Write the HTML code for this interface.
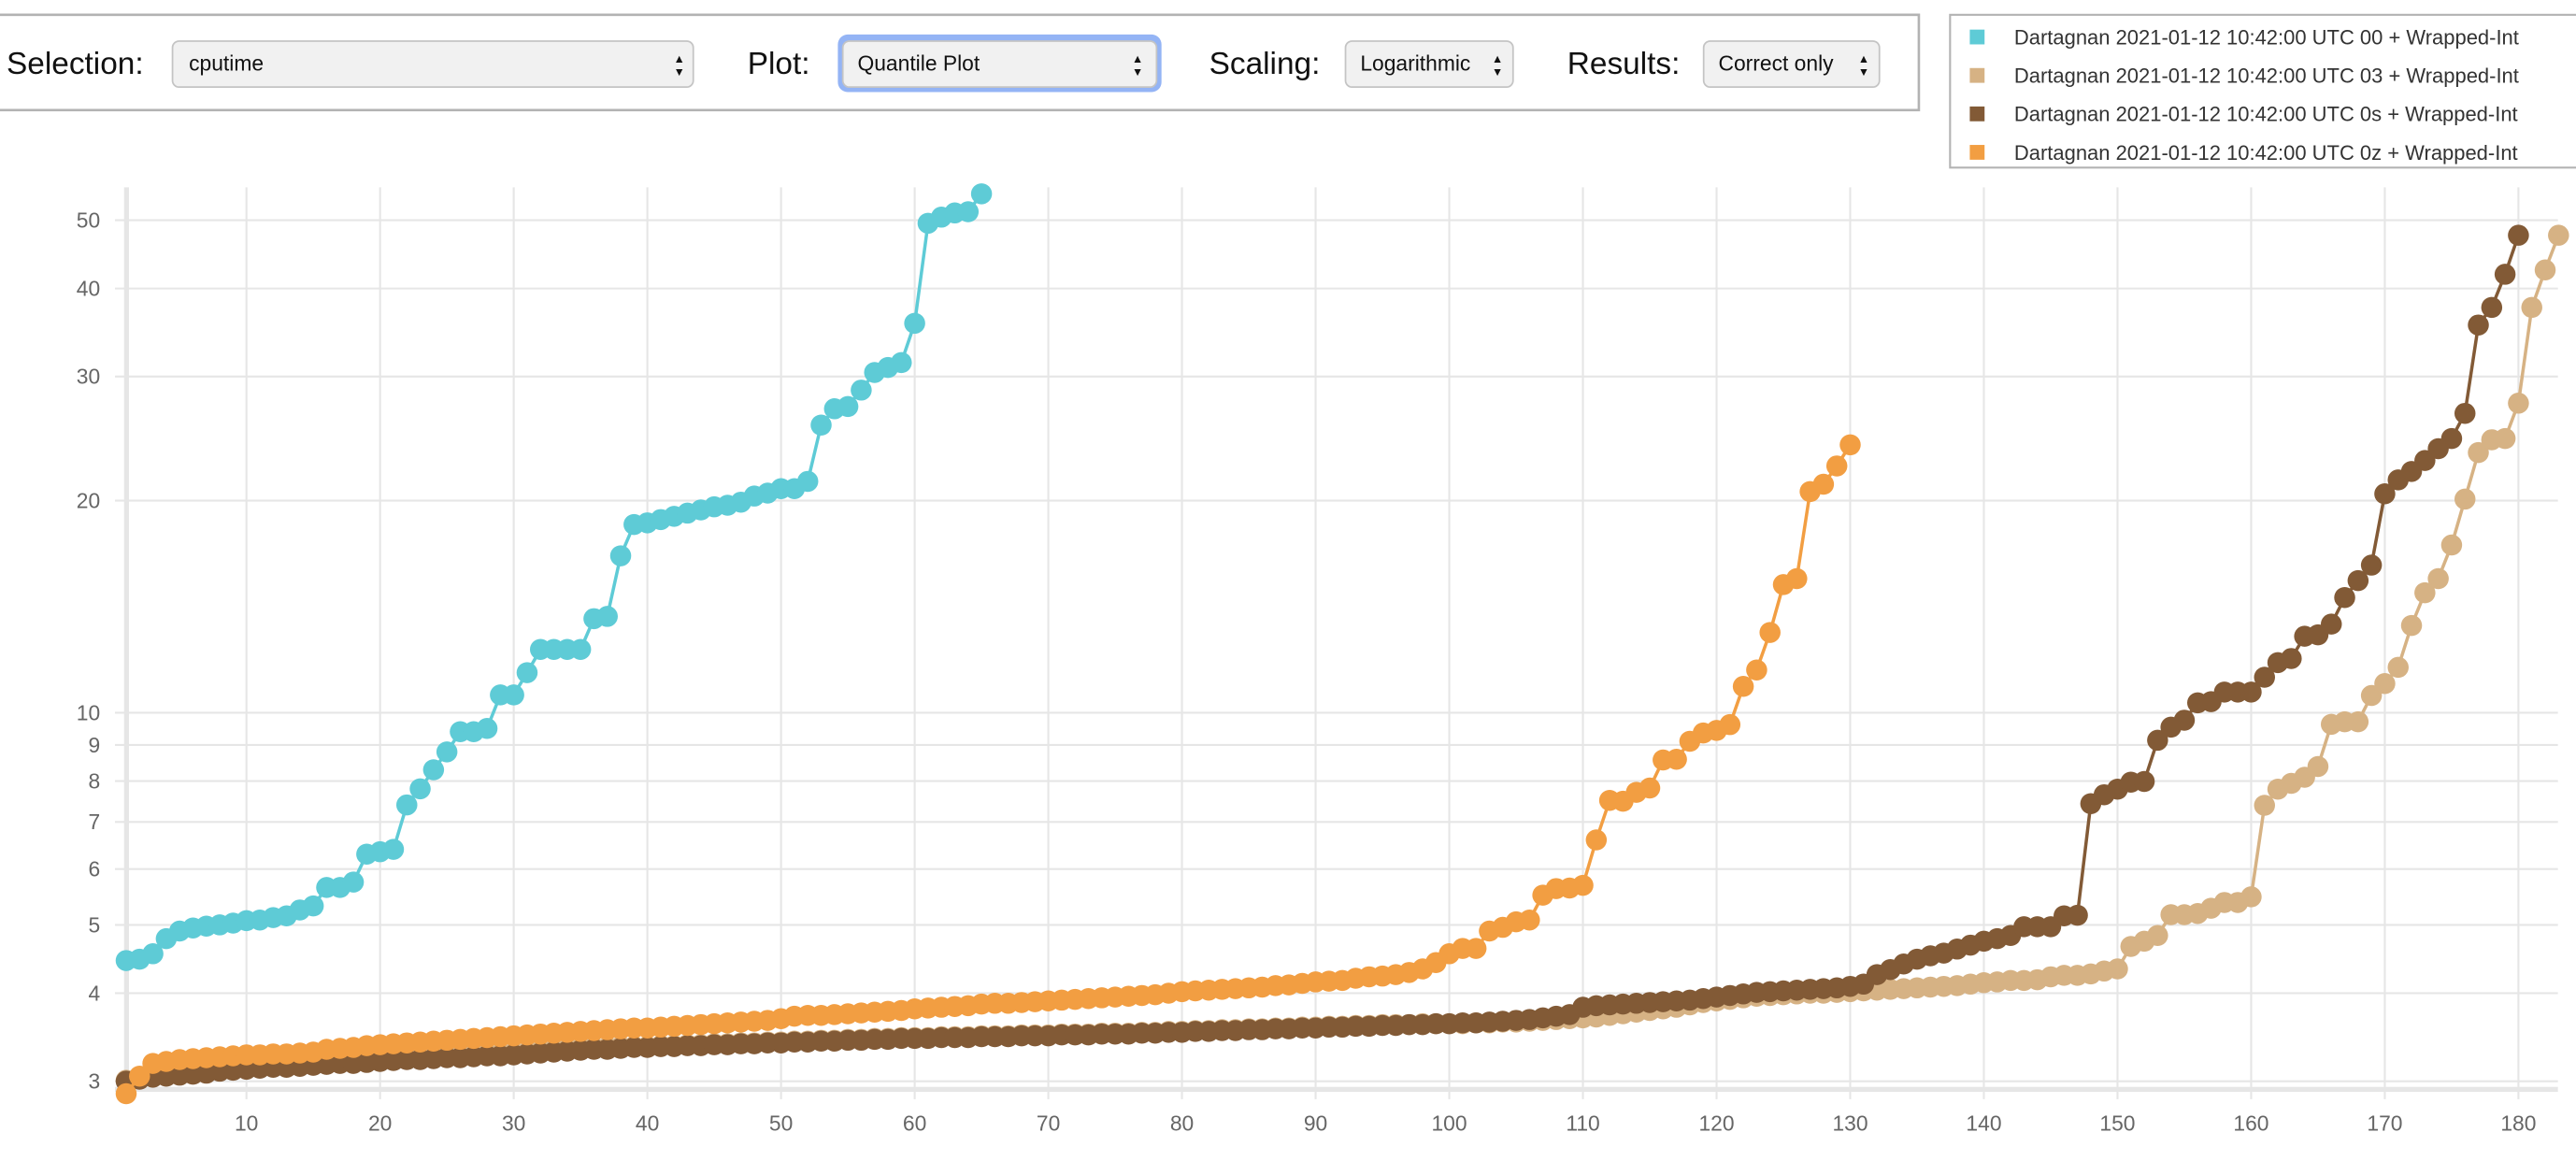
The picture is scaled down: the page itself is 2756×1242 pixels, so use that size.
<!DOCTYPE html>
<html><head><meta charset="utf-8"><style>
html,body{margin:0;padding:0;background:#fff;}
svg{display:block;font-family:"Liberation Sans","DejaVu Sans",sans-serif;}
</style></head><body>
<svg id="root" width="2756" height="1242" viewBox="0 0 1568 706.6">
  <g>
    <rect x="-2" y="9" width="1170" height="58" fill="#fff" stroke="#b3b3b3" stroke-width="1.5"/>
    <text x="4" y="45" font-size="19" fill="#111">Selection:</text>
    <g>
      <rect x="105" y="25" width="317" height="28" rx="4" fill="#f1f1f1" stroke="#c4c4c4"/>
      <text x="115" y="43" font-size="13" fill="#111">cputime</text>
      <text x="410" y="38" font-size="7" fill="#111">▲</text><text x="410" y="46" font-size="7" fill="#111">▼</text>
    </g>
    <text x="455" y="45" font-size="19" fill="#111">Plot:</text>
    <g>
      <rect x="510" y="21" width="197" height="35" rx="6" fill="#94b4f5"/>
      <rect x="513" y="25" width="191" height="28" rx="4" fill="#f1f1f1" stroke="#c4c4c4"/>
      <text x="522" y="43" font-size="13" fill="#111">Quantile Plot</text>
      <text x="689" y="38" font-size="7" fill="#111">▲</text><text x="689" y="46" font-size="7" fill="#111">▼</text>
    </g>
    <text x="736" y="45" font-size="19" fill="#111">Scaling:</text>
    <g>
      <rect x="819" y="25" width="102" height="28" rx="4" fill="#f1f1f1" stroke="#c4c4c4"/>
      <text x="828" y="43" font-size="13" fill="#111">Logarithmic</text>
      <text x="908" y="38" font-size="7" fill="#111">▲</text><text x="908" y="46" font-size="7" fill="#111">▼</text>
    </g>
    <text x="954" y="45" font-size="19" fill="#111">Results:</text>
    <g>
      <rect x="1037" y="25" width="107" height="28" rx="4" fill="#f1f1f1" stroke="#c4c4c4"/>
      <text x="1046" y="43" font-size="13" fill="#111">Correct only</text>
      <text x="1131" y="38" font-size="7" fill="#111">▲</text><text x="1131" y="46" font-size="7" fill="#111">▼</text>
    </g>
  </g>
  <g>
    <rect x="1187" y="9" width="385" height="93" fill="#fff" stroke="#b3b3b3" stroke-width="1.2"/>
  </g>
  <g id="chart"></g>
</svg>
<script>
const labels = ["Dartagnan 2021-01-12 10:42:00 UTC 00 + Wrapped-Int","Dartagnan 2021-01-12 10:42:00 UTC 03 + Wrapped-Int","Dartagnan 2021-01-12 10:42:00 UTC 0s + Wrapped-Int","Dartagnan 2021-01-12 10:42:00 UTC 0z + Wrapped-Int"];
const colors = ["#5ecbd6","#d6b284","#825a36","#f29e42"];
const xTicks = [10,20,30,40,50,60,70,80,90,100,110,120,130,140,150,160,170,180];
const yTicks = [3,4,5,6,7,8,9,10,20,30,40,50];
const s00 = [4.45,4.47,4.55,4.78,4.9,4.95,4.98,5.0,5.03,5.07,5.08,5.12,5.15,5.25,5.32,5.65,5.65,5.75,6.3,6.35,6.4,7.4,7.8,8.3,8.8,9.4,9.4,9.5,10.6,10.6,11.4,12.3,12.3,12.3,12.3,13.6,13.7,16.7,18.5,18.6,18.8,19.0,19.2,19.4,19.6,19.7,19.9,20.3,20.5,20.8,20.8,21.3,25.6,27.0,27.2,28.7,30.4,30.9,31.4,35.7,49.5,50.5,51.2,51.4,54.5];
const s0z = [2.88,3.05,3.18,3.2,3.22,3.23,3.24,3.25,3.26,3.27,3.27,3.28,3.28,3.29,3.3,3.33,3.34,3.35,3.37,3.38,3.39,3.4,3.41,3.42,3.43,3.44,3.45,3.46,3.47,3.48,3.49,3.5,3.51,3.52,3.53,3.54,3.55,3.56,3.57,3.57,3.58,3.59,3.6,3.61,3.62,3.63,3.64,3.65,3.66,3.68,3.71,3.72,3.72,3.73,3.74,3.75,3.76,3.77,3.78,3.8,3.81,3.82,3.83,3.84,3.86,3.87,3.87,3.88,3.89,3.9,3.91,3.92,3.93,3.94,3.95,3.96,3.97,3.98,4.0,4.02,4.03,4.04,4.05,4.06,4.07,4.08,4.1,4.11,4.13,4.15,4.16,4.17,4.2,4.22,4.23,4.25,4.28,4.33,4.42,4.55,4.63,4.63,4.9,4.96,5.05,5.08,5.51,5.63,5.64,5.69,6.6,7.51,7.49,7.71,7.82,8.57,8.59,9.11,9.36,9.44,9.62,10.9,11.5,13.0,15.2,15.5,20.6,21.1,22.4,24.0];
const s0s = [3.0,3.02,3.04,3.05,3.06,3.07,3.08,3.1,3.11,3.12,3.13,3.14,3.14,3.15,3.16,3.17,3.18,3.18,3.19,3.2,3.21,3.22,3.22,3.23,3.24,3.24,3.25,3.26,3.26,3.27,3.28,3.29,3.3,3.31,3.32,3.33,3.33,3.34,3.35,3.35,3.36,3.36,3.37,3.37,3.38,3.38,3.39,3.39,3.4,3.4,3.41,3.41,3.42,3.42,3.43,3.43,3.44,3.44,3.45,3.45,3.45,3.46,3.46,3.46,3.47,3.47,3.47,3.48,3.48,3.48,3.49,3.49,3.49,3.5,3.5,3.5,3.51,3.51,3.52,3.52,3.53,3.53,3.54,3.54,3.55,3.55,3.56,3.56,3.57,3.57,3.58,3.58,3.59,3.59,3.6,3.6,3.61,3.61,3.62,3.62,3.63,3.63,3.64,3.65,3.66,3.67,3.69,3.71,3.73,3.82,3.84,3.85,3.86,3.87,3.88,3.89,3.9,3.91,3.93,3.95,3.97,3.99,4.01,4.02,4.03,4.04,4.05,4.06,4.07,4.09,4.12,4.25,4.32,4.4,4.47,4.52,4.56,4.62,4.68,4.74,4.78,4.83,4.97,4.97,4.97,5.15,5.16,7.43,7.65,7.79,7.97,7.99,9.14,9.54,9.76,10.33,10.37,10.7,10.7,10.7,11.23,11.78,11.94,12.84,12.9,13.36,14.57,15.4,16.2,20.45,21.4,22.0,22.8,23.7,24.5,26.6,35.5,37.6,41.9,47.6];
const s03 = [3.01,3.03,3.05,3.06,3.07,3.08,3.09,3.11,3.12,3.13,3.14,3.15,3.15,3.16,3.17,3.18,3.19,3.19,3.2,3.21,3.22,3.23,3.23,3.24,3.25,3.26,3.27,3.28,3.28,3.29,3.3,3.31,3.32,3.33,3.34,3.35,3.35,3.36,3.36,3.36,3.37,3.37,3.38,3.38,3.39,3.39,3.4,3.4,3.41,3.41,3.42,3.42,3.43,3.43,3.44,3.44,3.45,3.45,3.46,3.46,3.46,3.47,3.47,3.47,3.48,3.48,3.48,3.49,3.49,3.49,3.5,3.5,3.5,3.51,3.51,3.51,3.52,3.52,3.53,3.53,3.54,3.54,3.55,3.55,3.56,3.56,3.57,3.57,3.58,3.58,3.59,3.59,3.6,3.6,3.61,3.61,3.61,3.62,3.62,3.62,3.62,3.63,3.63,3.64,3.64,3.65,3.66,3.67,3.68,3.69,3.7,3.72,3.74,3.76,3.78,3.8,3.82,3.85,3.88,3.9,3.92,3.94,3.96,3.97,3.98,3.99,4.0,4.0,4.01,4.02,4.03,4.04,4.05,4.06,4.07,4.08,4.09,4.1,4.12,4.14,4.15,4.17,4.17,4.18,4.22,4.24,4.24,4.26,4.30,4.33,4.66,4.74,4.83,5.17,5.17,5.19,5.28,5.38,5.38,5.48,7.39,7.79,7.94,8.1,8.39,9.63,9.71,9.71,10.58,11.0,11.6,13.3,14.8,15.5,17.3,20.1,23.4,24.4,24.5,27.5,37.6,42.5,47.6];

const NS = "http://www.w3.org/2000/svg";
const chart = document.getElementById('chart');
function xs(i){ return 76.8 + (i-1)*8.135; }
function ys(v){ return 433.8 - 428.9*Math.log10(v/10); }
const PL = 70, PR = 1557, PT = 114, PB = 663;
function mk(tag, attrs, parent){
  const e = document.createElementNS(NS, tag);
  for (const k in attrs) e.setAttribute(k, attrs[k]);
  (parent||chart).appendChild(e); return e;
}
const grid = mk('g', {});


xTicks.forEach(t => {
  const l = mk('line', {x1:xs(t), x2:xs(t), y1:PT, y2:PB+6, stroke:'#e6e6e6', 'stroke-width':1.2}, grid);
  
  
  const tx = mk('text', {x:xs(t), y:688, 'font-size':13, fill:'#666', 'text-anchor':'middle'});
  tx.textContent = t;
  
  
});
yTicks.forEach(t => {
  const l = mk('line', {x1:PL, x2:PR, y1:ys(t), y2:ys(t), stroke:'#e6e6e6', 'stroke-width':1.2}, grid);
  
  
  const tx = mk('text', {x:61, y:ys(t)+4.5, 'font-size':13, fill:'#666', 'text-anchor':'end'});
  tx.textContent = t;
  
  
});
const yax = mk('line', {x1:77, x2:77, y1:PT, y2:PB, stroke:'#e6e6e6', 'stroke-width':3});


const xax = mk('line', {x1:PL, x2:PR, y1:PB, y2:PB, stroke:'#e6e6e6', 'stroke-width':3});



const series = [s00, s03, s0s, s0z];
const names = ['series-00','series-03','series-0s','series-0z'];
series.forEach((s, k) => {
  const g = mk('g', {});
  
  
  const pts = s.map((v,i) => xs(i+1).toFixed(2)+','+ys(v).toFixed(2)).join(' ');
  const pl = mk('polyline', {points:pts, fill:'none', stroke:colors[k], 'stroke-width':2}, g);
  
  
  s.forEach((v,i) => {
    const c = mk('circle', {cx:xs(i+1), cy:ys(v), r:6.4, fill:colors[k]}, g);
    
    
  });
});

const root = document.getElementById('root');
labels.forEach((t, k) => {
  const y = 22.5 + k*23.4;
  const g = mk('g', {}, root);
  
  
  mk('rect', {x:1199, y:y-4.5, width:9, height:9, fill:colors[k]}, g);
  const tx = mk('text', {x:1226, y:y+4.5, 'font-size':12.5, fill:'#333'}, g);
  tx.textContent = t;
});
</script>
</body></html>
